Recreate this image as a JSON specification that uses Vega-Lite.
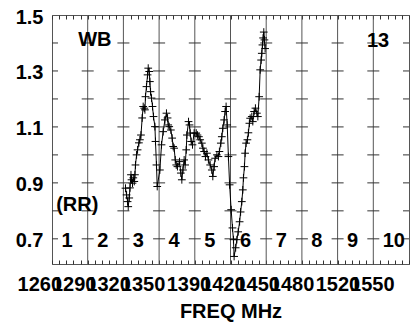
{
  "$schema": "https://vega.github.io/schema/vega-lite/v6.json",
  "width": 357,
  "height": 249,
  "autosize": {"type": "none"},
  "padding": {"left": 52, "top": 15, "right": 2, "bottom": 59},
  "config": {"view": {"stroke": "#555", "strokeWidth": 1}, "font": "Liberation Sans"},
  "datasets": {
    "curve": [
      {"f": 1326.9, "v": 0.881}, {"f": 1327.9, "v": 0.857}, {"f": 1328.8, "v": 0.833}, {"f": 1329.4, "v": 0.815},
      {"f": 1330.3, "v": 0.846}, {"f": 1331.0, "v": 0.882}, {"f": 1331.9, "v": 0.929}, {"f": 1332.4, "v": 0.911},
      {"f": 1333.3, "v": 0.899}, {"f": 1334.0, "v": 0.918}, {"f": 1334.9, "v": 0.905}, {"f": 1335.5, "v": 0.929},
      {"f": 1336.0, "v": 0.964}, {"f": 1337.0, "v": 1.000}, {"f": 1337.9, "v": 1.018}, {"f": 1339.1, "v": 1.043},
      {"f": 1340.0, "v": 1.054}, {"f": 1341.0, "v": 1.071}, {"f": 1342.1, "v": 1.132}, {"f": 1343.0, "v": 1.173},
      {"f": 1344.0, "v": 1.167}, {"f": 1344.6, "v": 1.161}, {"f": 1345.1, "v": 1.208}, {"f": 1346.0, "v": 1.244},
      {"f": 1347.0, "v": 1.286}, {"f": 1347.6, "v": 1.310}, {"f": 1348.5, "v": 1.298}, {"f": 1349.1, "v": 1.262},
      {"f": 1349.7, "v": 1.226}, {"f": 1350.6, "v": 1.203}, {"f": 1351.5, "v": 1.173}, {"f": 1352.4, "v": 1.137},
      {"f": 1353.7, "v": 1.101}, {"f": 1354.2, "v": 1.048}, {"f": 1355.1, "v": 0.964}, {"f": 1355.8, "v": 0.887},
      {"f": 1358.2, "v": 0.946}, {"f": 1359.7, "v": 1.036}, {"f": 1361.2, "v": 1.083}, {"f": 1362.8, "v": 1.125},
      {"f": 1364.2, "v": 1.149}, {"f": 1365.2, "v": 1.132}, {"f": 1365.8, "v": 1.107}, {"f": 1366.7, "v": 1.101},
      {"f": 1368.2, "v": 1.089}, {"f": 1369.4, "v": 1.060}, {"f": 1370.3, "v": 1.030}, {"f": 1371.2, "v": 1.024},
      {"f": 1372.2, "v": 0.982}, {"f": 1373.1, "v": 0.964}, {"f": 1374.2, "v": 0.958}, {"f": 1376.1, "v": 0.976},
      {"f": 1377.3, "v": 0.935}, {"f": 1378.2, "v": 0.911}, {"f": 1379.2, "v": 0.946}, {"f": 1380.3, "v": 0.982},
      {"f": 1381.2, "v": 0.964}, {"f": 1382.2, "v": 1.018}, {"f": 1382.8, "v": 1.071}, {"f": 1384.3, "v": 1.119},
      {"f": 1385.2, "v": 1.107}, {"f": 1385.8, "v": 1.078}, {"f": 1386.7, "v": 1.048}, {"f": 1387.9, "v": 1.036},
      {"f": 1389.4, "v": 1.078}, {"f": 1391.3, "v": 1.078}, {"f": 1392.4, "v": 1.071}, {"f": 1393.7, "v": 1.065},
      {"f": 1394.9, "v": 1.054}, {"f": 1396.4, "v": 1.042}, {"f": 1397.4, "v": 1.024}, {"f": 1398.5, "v": 1.012},
      {"f": 1399.7, "v": 0.994}, {"f": 1401.0, "v": 1.006}, {"f": 1402.4, "v": 0.982}, {"f": 1404.0, "v": 0.964},
      {"f": 1405.5, "v": 0.946}, {"f": 1406.4, "v": 0.923}, {"f": 1407.6, "v": 0.958}, {"f": 1408.5, "v": 0.988},
      {"f": 1410.1, "v": 1.000}, {"f": 1411.5, "v": 0.994}, {"f": 1412.4, "v": 1.012}, {"f": 1413.7, "v": 1.042},
      {"f": 1414.6, "v": 1.065}, {"f": 1415.5, "v": 1.095}, {"f": 1416.7, "v": 1.125}, {"f": 1417.6, "v": 1.155},
      {"f": 1418.5, "v": 1.173}, {"f": 1419.5, "v": 1.107}, {"f": 1420.6, "v": 0.994}, {"f": 1421.7, "v": 0.893},
      {"f": 1423.1, "v": 0.804}, {"f": 1424.3, "v": 0.739}, {"f": 1425.2, "v": 0.697}, {"f": 1425.8, "v": 0.637},
      {"f": 1427.2, "v": 0.668}, {"f": 1428.3, "v": 0.697}, {"f": 1429.5, "v": 0.725}, {"f": 1430.8, "v": 0.761},
      {"f": 1431.7, "v": 0.796}, {"f": 1432.8, "v": 0.833}, {"f": 1433.7, "v": 0.875}, {"f": 1434.3, "v": 0.918},
      {"f": 1435.2, "v": 0.958}, {"f": 1435.8, "v": 1.006}, {"f": 1436.7, "v": 1.042}, {"f": 1437.9, "v": 1.054},
      {"f": 1438.8, "v": 1.079}, {"f": 1439.7, "v": 1.113}, {"f": 1440.4, "v": 1.131}, {"f": 1441.9, "v": 1.137},
      {"f": 1442.8, "v": 1.119}, {"f": 1444.0, "v": 1.155}, {"f": 1445.2, "v": 1.167}, {"f": 1446.5, "v": 1.149},
      {"f": 1447.4, "v": 1.137}, {"f": 1448.6, "v": 1.208}, {"f": 1449.5, "v": 1.304}, {"f": 1450.4, "v": 1.339},
      {"f": 1451.0, "v": 1.363}, {"f": 1451.6, "v": 1.393}, {"f": 1452.2, "v": 1.418}, {"f": 1452.8, "v": 1.439},
      {"f": 1453.4, "v": 1.411}, {"f": 1454.0, "v": 1.380}
    ],
    "bounds": [
      {"f": 1292.5}, {"f": 1325}, {"f": 1357.5}, {"f": 1390}, {"f": 1422.5},
      {"f": 1455}, {"f": 1487.5}, {"f": 1520}, {"f": 1552.5}
    ],
    "crosses": [
      {"f": 1260, "v": [0.7, 0.8, 0.9, 1.0, 1.1, 1.2, 1.3, 1.4]},
      {"f": 1292.5, "v": [0.7, 0.8, 0.9, 1.0, 1.1, 1.2, 1.3, 1.4]},
      {"f": 1325, "v": [0.7, 0.8, 0.9, 1.0, 1.1, 1.2, 1.3, 1.4]},
      {"f": 1357.5, "v": [0.7, 0.8, 0.9, 1.0, 1.1, 1.2, 1.3, 1.4]},
      {"f": 1390, "v": [0.7, 0.8, 0.9, 1.0, 1.1, 1.2, 1.3, 1.4]},
      {"f": 1422.5, "v": [0.7, 0.8, 0.9, 1.0, 1.1, 1.2, 1.3, 1.4]},
      {"f": 1455, "v": [0.7, 0.8, 0.9, 1.0, 1.1, 1.2, 1.3, 1.4]},
      {"f": 1487.5, "v": [0.7, 0.8, 0.9, 1.0, 1.1, 1.2, 1.3, 1.4]},
      {"f": 1520, "v": [0.7, 0.8, 0.9, 1.0, 1.1, 1.2, 1.3, 1.4]},
      {"f": 1552.5, "v": [0.7, 0.8, 0.9, 1.0, 1.1, 1.2, 1.3, 1.4]},
      {"f": 1585, "v": [0.7, 0.8, 0.9, 1.0, 1.1, 1.2, 1.3, 1.4]}
    ],
    "nums": [
      {"f": 1268.6, "v": 0.693, "t": "1"}, {"f": 1301.1, "v": 0.693, "t": "2"},
      {"f": 1333.6, "v": 0.693, "t": "3"}, {"f": 1366.1, "v": 0.693, "t": "4"},
      {"f": 1398.6, "v": 0.693, "t": "5"}, {"f": 1431.1, "v": 0.693, "t": "6"},
      {"f": 1463.6, "v": 0.693, "t": "7"}, {"f": 1496.1, "v": 0.693, "t": "8"},
      {"f": 1528.6, "v": 0.693, "t": "9"}, {"f": 1561.1, "v": 0.693, "t": "10"}
    ],
    "notes": [
      {"f": 1299.0, "v": 1.411, "t": "WB"},
      {"f": 1556.8, "v": 1.407, "t": "13"},
      {"f": 1283.0, "v": 0.821, "t": "(RR)"}
    ]
  },
  "resolve": {"axis": {"x": "independent", "y": "independent"}},
  "layer": [
    {
      "data": {"name": "bounds"},
      "mark": {"type": "rule", "color": "#555", "strokeWidth": 1},
      "encoding": {
        "x": {
          "field": "f", "type": "quantitative",
          "scale": {"domain": [1260, 1585], "nice": false, "zero": false},
          "axis": {
            "orient": "top",
            "values": [1260, 1266.5, 1273, 1279.5, 1286, 1292.5, 1299, 1305.5, 1312, 1318.5, 1325, 1331.5, 1338, 1344.5, 1351, 1357.5, 1364, 1370.5, 1377, 1383.5, 1390, 1396.5, 1403, 1409.5, 1416, 1422.5, 1429, 1435.5, 1442, 1448.5, 1455, 1461.5, 1468, 1474.5, 1481, 1487.5, 1494, 1500.5, 1507, 1513.5, 1520, 1526.5, 1533, 1539.5, 1546, 1552.5, 1559, 1565.5, 1572, 1578.5, 1585],
            "ticks": true, "tickSize": -4, "tickColor": "#333", "tickWidth": 1,
            "labels": false, "domain": false, "grid": false, "title": null
          }
        }
      }
    },
    {
      "data": {"name": "crosses"},
      "transform": [{"flatten": ["v"]}],
      "mark": {"type": "tick", "orient": "horizontal", "size": 12, "thickness": 1, "color": "#333", "clip": true, "opacity": 1},
      "encoding": {
        "x": {"field": "f", "type": "quantitative", "scale": {"domain": [1260, 1585], "nice": false, "zero": false}, "axis": null},
        "y": {"field": "v", "type": "quantitative", "scale": {"domain": [0.61, 1.5], "nice": false, "zero": false}, "axis": null}
      }
    },
    {
      "data": {"name": "curve"},
      "mark": {
        "type": "line", "color": "black", "strokeWidth": 1,
        "point": {"shape": "M-1,0H1M0,-1V1", "filled": false, "size": 60, "stroke": "black", "strokeWidth": 1, "opacity": 1}
      },
      "encoding": {
        "x": {
          "field": "f", "type": "quantitative",
          "scale": {"domain": [1260, 1585], "nice": false, "zero": false},
          "axis": {
            "orient": "bottom",
            "values": [1260, 1266.5, 1273, 1279.5, 1286, 1290, 1292.5, 1299, 1305.5, 1312, 1318.5, 1320, 1325, 1331.5, 1338, 1344.5, 1350, 1351, 1357.5, 1364, 1370.5, 1377, 1383.5, 1390, 1396.5, 1403, 1409.5, 1416, 1420, 1422.5, 1429, 1435.5, 1442, 1448.5, 1450, 1455, 1461.5, 1468, 1474.5, 1480, 1481, 1487.5, 1494, 1500.5, 1507, 1513.5, 1520, 1526.5, 1533, 1539.5, 1546, 1550, 1552.5, 1559, 1565.5, 1572, 1578.5, 1585],
            "labelExpr": "indexof([1260,1290,1320,1350,1390,1420,1450,1480,1520,1550], datum.value) >= 0 ? format(datum.value, 'd') : ''",
            "labelOverlap": false, "labelFlush": false,
            "labelFont": "Liberation Sans", "labelFontWeight": "bold", "labelFontSize": 20, "labelColor": "black",
            "labelPadding": 14, "labelBaseline": "top",
            "labelOffset": {"condition": {"test": "datum.value < 1000", "value": 0}, "expr": "-12.7 + (datum.value - 1260) * 0.0483"},
            "ticks": true, "tickSize": -4, "tickColor": "#333", "tickWidth": 1,
            "tickOpacity": {"condition": {"test": "indexof([1290,1320,1350,1420,1450,1480,1550], datum.value) >= 0", "value": 0}, "value": 1},
            "domain": false, "grid": false,
            "title": "FREQ MHz", "titleFont": "Liberation Sans", "titleFontSize": 20, "titleFontWeight": "bold", "titleColor": "black",
            "titleY": 53, "titleBaseline": "alphabetic"
          }
        },
        "y": {
          "field": "v", "type": "quantitative",
          "scale": {"domain": [0.61, 1.5], "nice": false, "zero": false},
          "axis": {
            "orient": "left",
            "values": [0.7, 0.9, 1.1, 1.3, 1.5],
            "format": ".1f",
            "ticks": false, "domain": false, "grid": false,
            "labelPadding": 9, "labelOffset": 2, "labelFlush": false, "labelOverlap": false,
            "labelFont": "Liberation Sans", "labelFontWeight": "bold", "labelFontSize": 20, "labelColor": "black",
            "title": null
          }
        }
      }
    },
    {
      "data": {"name": "nums"},
      "mark": {"type": "text", "align": "left", "baseline": "middle", "font": "Liberation Sans", "fontWeight": "bold", "fontSize": 20, "color": "black"},
      "encoding": {
        "x": {"field": "f", "type": "quantitative", "scale": {"domain": [1260, 1585], "nice": false, "zero": false}, "axis": null},
        "y": {"field": "v", "type": "quantitative", "scale": {"domain": [0.61, 1.5], "nice": false, "zero": false}, "axis": null},
        "text": {"field": "t", "type": "nominal"}
      }
    },
    {
      "data": {"name": "notes"},
      "mark": {"type": "text", "align": "center", "baseline": "middle", "font": "Liberation Sans", "fontWeight": "bold", "fontSize": 20, "color": "black"},
      "encoding": {
        "x": {"field": "f", "type": "quantitative", "scale": {"domain": [1260, 1585], "nice": false, "zero": false}, "axis": null},
        "y": {"field": "v", "type": "quantitative", "scale": {"domain": [0.61, 1.5], "nice": false, "zero": false}, "axis": null},
        "text": {"field": "t", "type": "nominal"}
      }
    }
  ]
}
